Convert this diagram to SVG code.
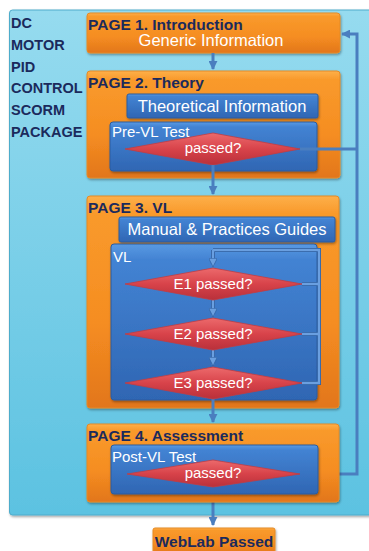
<svg xmlns="http://www.w3.org/2000/svg" width="369" height="551" viewBox="0 0 369 551">
  <defs>
    <linearGradient id="gBg" x1="0" y1="0" x2="0" y2="1">
      <stop offset="0" stop-color="#96dbef"/>
      <stop offset="1" stop-color="#5cc2e1"/>
    </linearGradient>
    <linearGradient id="gOrange" x1="0" y1="0" x2="0" y2="1">
      <stop offset="0" stop-color="#fdb04a"/>
      <stop offset="0.08" stop-color="#f99a2c"/>
      <stop offset="0.6" stop-color="#f58d21"/>
      <stop offset="1" stop-color="#e2761c"/>
    </linearGradient>
    <linearGradient id="gBlue" x1="0" y1="0" x2="0" y2="1">
      <stop offset="0" stop-color="#5a9ae3"/>
      <stop offset="0.1" stop-color="#4383d3"/>
      <stop offset="1" stop-color="#2f66b3"/>
    </linearGradient>
    <linearGradient id="gRed" x1="0" y1="0" x2="0" y2="1">
      <stop offset="0" stop-color="#ec6a6c"/>
      <stop offset="0.5" stop-color="#d8434a"/>
      <stop offset="1" stop-color="#b9303a"/>
    </linearGradient>
    <filter id="shadow" x="-10%" y="-10%" width="120%" height="130%">
      <feDropShadow dx="0.8" dy="1.5" stdDeviation="1.2" flood-color="#000" flood-opacity="0.35"/>
    </filter>
    <marker id="arrow" viewBox="0 0 10 10" refX="9" refY="5" markerWidth="3" markerHeight="3" orient="auto" markerUnits="strokeWidth">
      <path d="M0,0 L10,5 L0,10 z" fill="#4a7ebf"/>
    </marker>
    <marker id="arrowIn" viewBox="0 0 10 10" refX="9" refY="5" markerWidth="3.6" markerHeight="3.6" orient="auto" markerUnits="strokeWidth">
      <path d="M0,0 L10,5 L0,10 z" fill="#6a9fe0" stroke="#2d5d9e" stroke-width="0.8"/>
    </marker>
  </defs>
  <style>
    .page { fill: url(#gOrange); stroke: #e58a26; stroke-width: 1; filter: url(#shadow); }
    .panel { fill: url(#gBlue); stroke: #2c5c9f; stroke-width: 1; filter: url(#shadow); }
    .dec { fill: url(#gRed); stroke: #c13c42; stroke-width: 0.8; }
    .title { font-family: "Liberation Sans", Arial, sans-serif; font-weight: bold; font-size: 15.5px; fill: #1b2a5c; }
    .side { font-family: "Liberation Sans", Arial, sans-serif; font-weight: bold; font-size: 14.5px; fill: #1b2a5c; }
    .label { font-family: "Liberation Sans", Arial, sans-serif; font-size: 16.5px; fill: #ffffff; }
    .small { font-family: "Liberation Sans", Arial, sans-serif; font-size: 15px; fill: #ffffff; }
    .conn { fill: none; stroke: #4a7ebf; stroke-width: 3; }
    .loop-edge { fill: none; stroke: #2d5d9e; stroke-width: 4; }
    .loop { fill: none; stroke: #6a9fe0; stroke-width: 2.4; }
  </style>

  <!-- package background -->
  <g id="package">
    <rect x="9.5" y="10" width="366" height="505" rx="3" fill="url(#gBg)" stroke="#4eaccb" stroke-width="1" filter="url(#shadow)"/>
    <text class="side" x="11" y="28">DC</text>
    <text class="side" x="11" y="50">MOTOR</text>
    <text class="side" x="11" y="72">PID</text>
    <text class="side" x="11" y="93">CONTROL</text>
    <text class="side" x="11" y="115">SCORM</text>
    <text class="side" x="11" y="137">PACKAGE</text>
  </g>

  <!-- page 1 -->
  <g id="page1">
    <rect class="page" x="87" y="13" width="253" height="40" rx="3"/>
    <text class="title" x="88" y="30">PAGE 1. Introduction</text>
    <text class="label" x="211" y="46" text-anchor="middle">Generic Information</text>
  </g>

  <!-- page 2 -->
  <g id="page2">
    <rect class="page" x="87" y="71" width="253" height="107" rx="3"/>
    <text class="title" x="88" y="88">PAGE 2. Theory</text>
  </g>
  <g id="theory-info">
    <rect class="panel" x="127" y="94" width="191" height="24" rx="2"/>
    <text class="label" x="222" y="112" text-anchor="middle">Theoretical Information</text>
  </g>
  <g id="pre-vl-test">
    <rect class="panel" x="110" y="122" width="207" height="49" rx="3"/>
    <text class="small" x="112" y="137">Pre-VL Test</text>
  </g>
  <g id="pre-vl-decision">
    <polygon class="dec" points="125,149 213,133 300,149 213,165"/>
    <text class="small" x="213" y="153" text-anchor="middle">passed?</text>
  </g>

  <!-- page 3 -->
  <g id="page3">
    <rect class="page" x="87" y="196" width="252" height="212" rx="3"/>
    <text class="title" x="88" y="213">PAGE 3. VL</text>
  </g>
  <g id="guides">
    <rect class="panel" x="119" y="217" width="216" height="25" rx="2"/>
    <text class="label" x="227" y="235" text-anchor="middle">Manual &amp; Practices Guides</text>
  </g>
  <g id="vl">
    <rect class="panel" x="111" y="244" width="206" height="156" rx="3"/>
    <text class="small" x="113" y="262">VL</text>
  </g>

  <!-- connectors -->
  <g id="connectors">
    <path class="conn" d="M213,53 V69" marker-end="url(#arrow)"/>
    <path class="conn" d="M213,165 V194" marker-end="url(#arrow)"/>
    <path class="conn" d="M300,149 H357"/>
    <path class="conn" d="M300,474 H357 V34 H342" marker-end="url(#arrow)"/>
    <!-- retry loop inside the VL panel -->
    <path class="loop-edge" d="M213,250 H319 V383 H302 M302,284 H319 M302,334 H319 M213,250 V262 M213,300 V312 M213,350 V361"/>
    <path class="loop" d="M213,250 H319 V383 H302 M302,284 H319 M302,334 H319"/>
    <path class="loop" d="M213,250 V266" marker-end="url(#arrowIn)"/>
    <path class="loop" d="M213,300 V316" marker-end="url(#arrowIn)"/>
    <path class="loop" d="M213,350 V365" marker-end="url(#arrowIn)"/>
    <path class="conn" d="M213,399 V422" marker-end="url(#arrow)"/>
    <path class="conn" d="M213,487 V525" marker-end="url(#arrow)"/>
  </g>

  <g id="e1">
    <polygon class="dec" points="125,284 213,268 302,284 213,300"/>
    <text class="small" x="213" y="289" text-anchor="middle">E1 passed?</text>
  </g>
  <g id="e2">
    <polygon class="dec" points="125,334 213,318 302,334 213,350"/>
    <text class="small" x="213" y="339" text-anchor="middle">E2 passed?</text>
  </g>
  <g id="e3">
    <polygon class="dec" points="125,383 213,367 302,383 213,399"/>
    <text class="small" x="213" y="388" text-anchor="middle">E3 passed?</text>
  </g>

  <!-- page 4 -->
  <g id="page4">
    <rect class="page" x="87" y="424" width="252" height="78" rx="3"/>
    <text class="title" x="88" y="441">PAGE 4. Assessment</text>
  </g>
  <g id="post-vl-test">
    <rect class="panel" x="111" y="445" width="207" height="49" rx="3"/>
    <text class="small" x="112" y="462">Post-VL Test</text>
  </g>
  <g id="post-vl-decision">
    <polygon class="dec" points="127,474 213,460 300,474 213,487"/>
    <text class="small" x="213" y="478" text-anchor="middle">passed?</text>
  </g>

  <!-- outcome -->
  <g id="weblab-passed">
    <rect class="page" x="153" y="528" width="122" height="26" rx="2"/>
    <text class="title" x="214" y="547" text-anchor="middle">WebLab Passed</text>
  </g>
</svg>
